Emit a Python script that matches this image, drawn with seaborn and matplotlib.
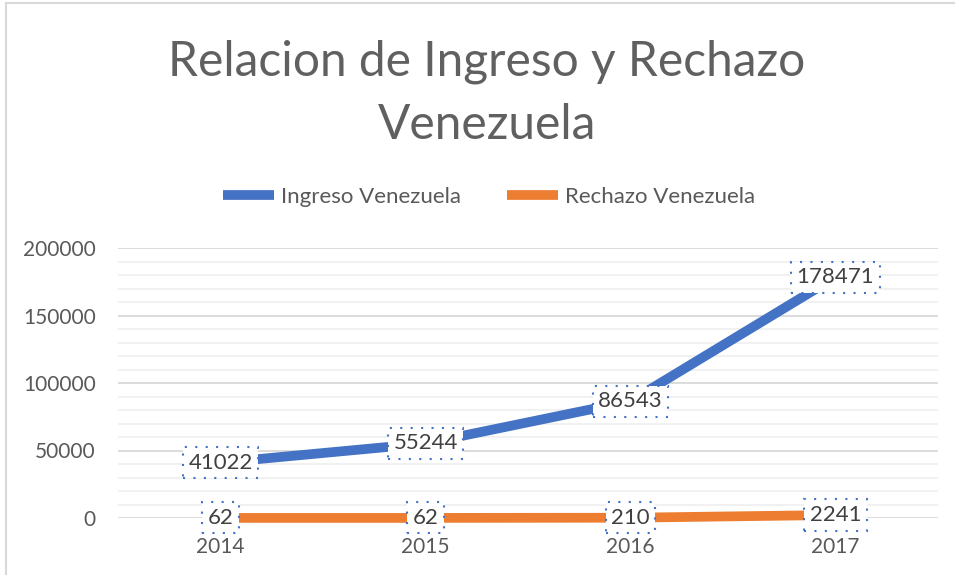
import pandas as pd
import seaborn as sns
import matplotlib.pyplot as plt
from matplotlib.lines import Line2D

years = ['2014', '2015', '2016', '2017']
ingreso = [41022, 55244, 86543, 178471]
rechazo = [62, 62, 210, 2241]
series_names = ['Ingreso Venezuela', 'Rechazo Venezuela']
colors = ['#4472C4', '#ED7D31']

df = pd.DataFrame({'year': years * 2,
                   'value': ingreso + rechazo,
                   'serie': [series_names[0]] * 4 + [series_names[1]] * 4})

sns.set_style('white')
plt.rcParams['font.family'] = ['Lato', 'DejaVu Sans']
text_gray = '#595959'

fig = plt.figure(figsize=(9.55, 5.75), dpi=100)
ax = fig.add_axes([118 / 955, 57 / 575, 820 / 955, 270 / 575])

sns.lineplot(data=df, x='year', y='value', hue='serie', palette=colors,
             linewidth=7, ax=ax, legend=False, solid_capstyle='butt', zorder=3,
             clip_on=False)

ax.set_xlim(-0.5, 3.5)
ax.set_ylim(0, 200000)
ax.set_yticks(range(0, 200001, 50000))
ax.set_yticks(range(0, 200001, 10000), minor=True)
ax.grid(which='major', axis='y', color='#D9D9D9', linewidth=1.3)
ax.grid(which='minor', axis='y', color='#F0F0F0', linewidth=1.3)
ax.grid(axis='x', visible=False)
for s in ax.spines.values():
    s.set_visible(False)
ax.tick_params(axis='both', which='both', length=0, labelsize=15, colors=text_gray)
ax.tick_params(axis='y', pad=16)
ax.tick_params(axis='x', pad=14)
ax.set_xlabel('')
ax.set_ylabel('')

# data labels
for vals in (ingreso, rechazo):
    for i, v in enumerate(vals):
        ax.text(i, v, str(v), ha='center', va='center', fontsize=16, color='#404040',
                zorder=5,
                bbox=dict(boxstyle='square,pad=0.25', facecolor='white',
                          edgecolor='#4472C4', linestyle=(0, (1, 4)), linewidth=1.5))

fig.text(487 / 955, 1 - 62 / 575, 'Relacion de Ingreso y Rechazo', ha='center', va='center',
         fontsize=34.5, color='#606060')
fig.text(487 / 955, 1 - 125 / 575, 'Venezuela', ha='center', va='center',
         fontsize=34.5, color='#606060')

handles = [Line2D([0], [0], color=c, linewidth=7, solid_capstyle='butt') for c in colors]
fig.legend(handles, series_names, loc='center', bbox_to_anchor=(489 / 955, 1 - 197 / 575),
           ncol=2, frameon=False, fontsize=16, labelcolor=text_gray,
           handlelength=2.3, handletextpad=0.3, columnspacing=2.1)

# chart area border (left and top visible)
fig.add_artist(Line2D([6 / 955, 6 / 955], [0, 1 - 3 / 575], color='#D9D9D9', linewidth=1.5))
fig.add_artist(Line2D([6 / 955, 1], [1 - 3 / 575, 1 - 3 / 575], color='#D9D9D9', linewidth=1.5))

fig.savefig('out.png', dpi=100)
